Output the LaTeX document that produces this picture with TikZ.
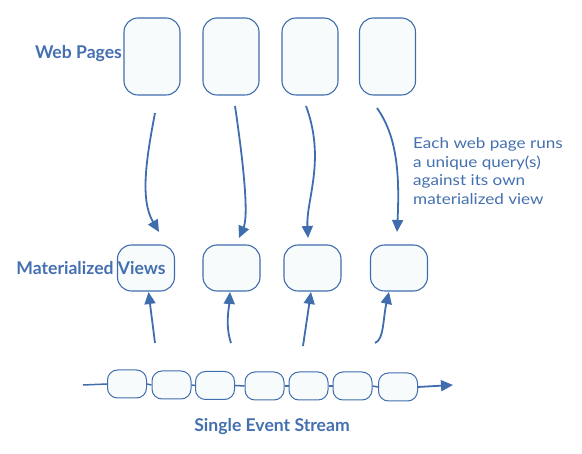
\documentclass[tikz,border=0pt]{standalone}
\usepackage{fontspec}
\setmainfont{Lato}
\newfontfamily\notefont[FakeStretch=1.14]{Lato}
\usetikzlibrary{arrows.meta}
\definecolor{dblue}{HTML}{4470B0}
\definecolor{lblue}{HTML}{3F6DAE}
\definecolor{bfill}{HTML}{F8FBFB}
\begin{document}
\begin{tikzpicture}[x=1pt,y=-1pt,
  wpbox/.style={draw=lblue,line width=1.1pt,fill=bfill,rounded corners=14pt,minimum width=56pt,minimum height=77pt,inner sep=0pt},
  mvbox/.style={draw=lblue,line width=1.1pt,fill=bfill,rounded corners=14pt,minimum width=57pt,minimum height=46pt,inner sep=0pt},
  evbox/.style={draw=lblue,line width=1pt,fill=bfill,rounded corners=10pt,minimum width=39pt,minimum height=28pt,inner sep=0pt},
  flow/.style={draw=lblue,line width=1.8pt,-{Triangle[length=12pt,width=11pt]}},
  link/.style={draw=lblue,line width=1.5pt},
  lbl/.style={text=dblue,font=\bfseries\fontsize{17.6}{20}\selectfont,inner sep=0pt},
  note/.style={text=dblue,font=\notefont\fontsize{15}{18.8}\selectfont,inner sep=0pt,align=left}]
\useasboundingbox (0,0) rectangle (582,454);
% web pages
\node[wpbox] (w1) at (152,56.5) {};
\node[wpbox] (w2) at (231,56.5) {};
\node[wpbox] (w3) at (310,56.5) {};
\node[wpbox] (w4) at (387.5,56.5) {};
% materialized views
\node[mvbox] (m1) at (146,268) {};
\node[mvbox] (m2) at (231.5,268) {};
\node[mvbox] (m3) at (312.5,268) {};
\node[mvbox] (m4) at (399,268) {};
% event stream
\node[evbox] (e1) at (127,384) {};
\node[evbox] (e2) at (171.5,385) {};
\node[evbox] (e3) at (215,385.5) {};
\node[evbox] (e4) at (264.5,386) {};
\node[evbox] (e5) at (308.5,386) {};
\node[evbox] (e6) at (352.5,386) {};
\node[evbox] (e7) at (398,387) {};
% labels
\node[lbl] (lw) at (78.5,54) {Web Pages};
\node[lbl] (lm) at (91,268) {Materialized Views};
\node[lbl] (ls) at (272,427) {Single Event Stream};
\node[note,anchor=north west] (nt) at (413,137) {Each web page runs\\a unique query(s)\\against its own\\materialized view};
% query arrows
\coordinate (q1s) at (155,113); \coordinate (q1e) at (159,232);
\coordinate (q2s) at (235,106); \coordinate (q2e) at (239,238);
\coordinate (q3s) at (306,106); \coordinate (q3e) at (308,238);
\coordinate (q4s) at (377,108); \coordinate (q4e) at (397,232);
\draw[flow] (q1s) .. controls (146,160) and (140,200) .. (q1e);
\draw[flow] (q2s) .. controls (243,160) and (249,215) .. (q2e);
\draw[flow] (q3s) .. controls (326,160) and (306,200) .. (q3e);
\draw[flow] (q4s) .. controls (396,135) and (400,170) .. (q4e);
% update arrows
\coordinate (u1s) at (155,343); \coordinate (u1e) at (148.5,292);
\coordinate (u2s) at (231,343); \coordinate (u2e) at (230,292);
\coordinate (u3s) at (303,346); \coordinate (u3e) at (311,292);
\coordinate (u4s) at (375,343); \coordinate (u4e) at (389,292);
\draw[flow] (u1s) -- (u1e);
\draw[flow] (u2s) .. controls (225,325) and (229,308) .. (u2e);
\draw[flow] (u3s) -- (u3e);
\draw[flow] (u4s) .. controls (384,340) and (383,318) .. (u4e);
% stream links
\coordinate (sin) at (83,385);
\coordinate (sout) at (453,385);
\draw[link] (sin) -- (e1.west);
\draw[link] (e1.east) -- (e2.west);
\draw[link] (e2.east) -- (e3.west);
\draw[link] (e3.east) -- (e4.west);
\draw[link] (e4.east) -- (e5.west);
\draw[link] (e5.east) -- (e6.west);
\draw[link] (e6.east) -- (e7.west);
\draw[flow] (e7.east) -- (sout);
\end{tikzpicture}
\end{document}
